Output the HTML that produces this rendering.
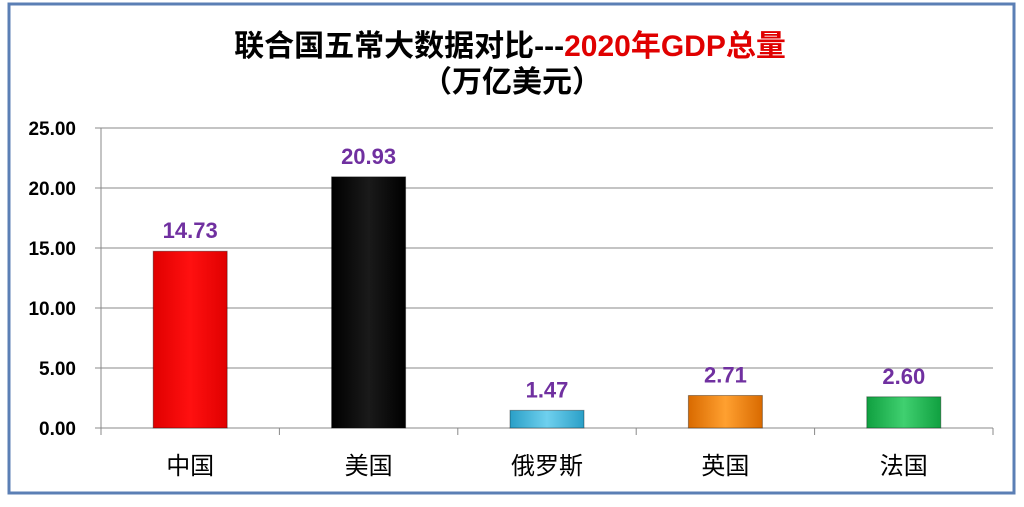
<!DOCTYPE html>
<html><head><meta charset="utf-8">
<style>
body{margin:0;background:#fff;width:1024px;height:502px;overflow:hidden}
svg text{font-family:"Liberation Sans","Noto Sans CJK SC",sans-serif}
</style></head>
<body>
<svg width="1024" height="502">
<defs>
<linearGradient id="g0" x1="0" x2="1"><stop offset="0" stop-color="#e00000"/><stop offset=".5" stop-color="#ff1010"/><stop offset="1" stop-color="#e00000"/></linearGradient>
<linearGradient id="g1" x1="0" x2="1"><stop offset="0" stop-color="#000"/><stop offset=".5" stop-color="#1a1a1a"/><stop offset="1" stop-color="#000"/></linearGradient>
<linearGradient id="g2" x1="0" x2="1"><stop offset="0" stop-color="#2a9fc7"/><stop offset=".5" stop-color="#6fd0ee"/><stop offset="1" stop-color="#2a9fc7"/></linearGradient>
<linearGradient id="g3" x1="0" x2="1"><stop offset="0" stop-color="#d96a00"/><stop offset=".5" stop-color="#ffa030"/><stop offset="1" stop-color="#d96a00"/></linearGradient>
<linearGradient id="g4" x1="0" x2="1"><stop offset="0" stop-color="#10a040"/><stop offset=".5" stop-color="#40d070"/><stop offset="1" stop-color="#10a040"/></linearGradient>
</defs>
<rect x="9" y="4" width="1005" height="489" fill="#fff" stroke="#5b7fb5" stroke-width="3"/>
<text x="510" y="56" text-anchor="middle" font-size="30" font-weight="bold"><tspan fill="#000">联合国五常大数据对比---</tspan><tspan fill="#e00000">2020年GDP总量</tspan></text>
<text x="512" y="92" text-anchor="middle" font-size="30" font-weight="bold" fill="#000">（万亿美元）</text>
<g id="grid"></g>
<g id="bars"></g>
</svg>
<script>
const categories=["中国","美国","俄罗斯","英国","法国"];
const values=[14.73,20.93,1.47,2.71,2.60];
const yTicks=[0,5,10,15,20,25];
const NS="http://www.w3.org/2000/svg";
const x0=101,x1=993,yTop=128,yBot=428,yMax=25;
const band=(x1-x0)/categories.length;
const y=v=>yBot-(v/yMax)*(yBot-yTop);
const xc=i=>x0+band*(i+0.5);
function mk(t,a,p){const e=document.createElementNS(NS,t);for(const k in a)e.setAttribute(k,a[k]);p.appendChild(e);return e;}
const grid=document.getElementById('grid'),bars=document.getElementById('bars');
yTicks.forEach(v=>{
 const l=mk('line',{x1:x0-6,x2:x1,y1:y(v),y2:y(v),stroke:'#888','stroke-width':1},grid);
 
 
 const t=mk('text',{x:76,y:y(v)+7,'text-anchor':'end','font-size':19,'font-weight':'bold',fill:'#000'},grid);
 t.textContent=v.toFixed(2);
 
 
});
const ax=mk('line',{x1:x0,x2:x0,y1:yTop,y2:yBot+6,stroke:'#888'},grid);


for(let i=0;i<=categories.length;i++){
 const tk=mk('line',{x1:x0+band*i,x2:x0+band*i,y1:yBot,y2:yBot+7,stroke:'#888'},grid);
 
 
}
const bw=74;
values.forEach((v,i)=>{
 const r=mk('rect',{x:xc(i)-bw/2,y:y(v),width:bw,height:yBot-y(v),fill:'url(#g'+i+')',stroke:'rgba(0,0,0,0.35)','stroke-width':1},bars);
 
 
 const t=mk('text',{x:xc(i),y:y(v)-13,'text-anchor':'middle','font-size':22,'font-weight':'bold',fill:'#7030a0'},bars);
 t.textContent=v.toFixed(2);
 
 
 const c=mk('text',{x:xc(i),y:474,'text-anchor':'middle','font-size':24,fill:'#000'},bars);
 c.textContent=categories[i];
 
 
});
</script>
</body></html>
